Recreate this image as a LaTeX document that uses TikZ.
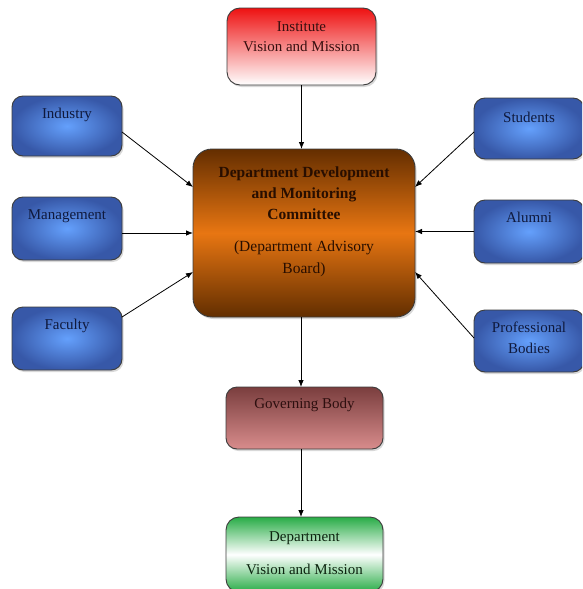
\documentclass[tikz,border=0pt]{standalone}
\usepackage{fontspec}
\setmainfont{Liberation Serif}
\usetikzlibrary{arrows.meta,shadows}

\definecolor{boxline}{RGB}{60,60,60}
\definecolor{bluein}{RGB}{100,160,252}
\definecolor{blueout}{RGB}{55,88,168}
\definecolor{bluetext}{RGB}{15,25,60}
\definecolor{orangetop}{RGB}{100,46,0}
\definecolor{orangemid}{RGB}{232,118,18}
\definecolor{orangebot}{RGB}{98,46,0}
\definecolor{redtop}{RGB}{238,18,18}
\definecolor{mauvetop}{RGB}{122,62,62}
\definecolor{mauvebot}{RGB}{216,140,140}
\definecolor{greentop}{RGB}{40,172,70}

\tikzset{
  box/.style={draw=boxline, line width=0.9pt, rounded corners=11pt,
    inner sep=0pt, outer sep=0pt,
    drop shadow={opacity=0.3, shadow xshift=1.5pt, shadow yshift=-2pt}},
  bluebox/.style={box, inner color=bluein, outer color=blueout,
    minimum width=110pt},
  txt/.style={font=\fontsize{15}{20}\selectfont, align=center, inner sep=0pt},
  bluetxt/.style={txt, text=bluetext},
  arr/.style={draw=black, line width=0.8pt, -{Latex[length=7pt,width=5.5pt]}}
}

\begin{document}
\begin{tikzpicture}[x=1pt,y=-1pt]
  \useasboundingbox (0,0) rectangle (582,589);
  \fill[white] (0,0) rectangle (582,589);
  \clip (0,0) rectangle (582,589);

  % central committee
  \node[box, rounded corners=19pt, minimum width=222pt, minimum height=168pt,
        top color=orangetop, bottom color=orangebot, middle color=orangemid]
        (cent) at (304,233) {};
  \node[txt, font=\fontsize{15.5}{21}\selectfont\bfseries, text={rgb,255:red,40;green,14;blue,0}]
        (cent-t) at ([yshift=-44pt]cent.north)
        {Department Development\\and Monitoring\\Committee};
  \node[txt, font=\fontsize{15.5}{22}\selectfont, text={rgb,255:red,40;green,14;blue,0}]
        (cent-s) at ([yshift=-110pt]cent.north)
        {(Department Advisory\\Board)};

  % institute
  \node[box, rounded corners=13pt, minimum width=149pt, minimum height=77pt,
        top color=redtop, bottom color=white]
        (inst) at (301.5,46.5) {};
  \node[txt, text={rgb,255:red,55;green,15;blue,15}] (inst-t)
        at ([yshift=-29pt]inst.north) {Institute\\Vision and Mission};

  % left stakeholders
  \node[bluebox, minimum height=60pt] (ind) at (67,126) {};
  \node[bluetxt] (ind-t) at ([yshift=-19pt]ind.north) {Industry};
  \node[bluebox, minimum height=63pt] (mgmt) at (67,228.5) {};
  \node[bluetxt] (mgmt-t) at ([yshift=-19pt]mgmt.north) {Management};
  \node[bluebox, minimum height=63pt] (fac) at (67,338.5) {};
  \node[bluetxt] (fac-t) at ([yshift=-19pt]fac.north) {Faculty};

  % right stakeholders
  \node[bluebox, minimum height=61pt] (stu) at (529,128.5) {};
  \node[bluetxt] (stu-t) at ([yshift=-19pt]stu.north) {Students};
  \node[bluebox, minimum height=63pt] (alum) at (529,231.5) {};
  \node[bluetxt] (alum-t) at ([yshift=-17pt]alum.north) {Alumni};
  \node[bluebox, minimum height=62pt] (prof) at (529,341) {};
  \node[bluetxt, font=\fontsize{15}{21}\selectfont] (prof-t)
        at ([yshift=-27.5pt]prof.north) {Professional\\Bodies};

  % governing body
  \node[box, minimum width=157pt, minimum height=62pt,
        top color=mauvetop, bottom color=mauvebot]
        (gov) at (304.5,418) {};
  \node[txt, text={rgb,255:red,45;green,15;blue,15}] (gov-t)
        at ([yshift=-18pt]gov.north) {Governing Body};

  % department vision
  \node[box, rounded corners=13pt, minimum width=157pt, minimum height=75pt,
        top color=greentop, bottom color=greentop, middle color=white]
        (dept) at (304.5,554.5) {};
  \node[txt, font=\fontsize{15}{33}\selectfont, text={rgb,255:red,12;green,35;blue,15}]
        (dept-t) at ([yshift=-36.5pt]dept.north) {Department\\Vision and Mission};

  % connectors
  \draw[arr] (inst.south) -- (inst.south |- cent.north);
  \draw[arr] ([yshift=-6pt]ind.east) -- ([yshift=46pt]cent.west);
  \draw[arr] ([yshift=-4.5pt]mgmt.east) coordinate (m) -- (m -| cent.west);
  \draw[arr] ([yshift=21.5pt]fac.east) -- ([yshift=-39pt]cent.west);
  \draw[arr] ([yshift=-3.5pt]stu.west) -- ([yshift=46pt]cent.east);
  \draw[arr] (alum.west) -- (alum.west -| cent.east);
  \draw[arr] ([yshift=3pt]prof.west) -- ([yshift=-39pt]cent.east);
  \draw[arr] ([xshift=-3pt]cent.south) coordinate (c) -- (c |- gov.north);
  \draw[arr] ([xshift=-3.5pt]gov.south) coordinate (g) -- (g |- dept.north);
\end{tikzpicture}
\end{document}
